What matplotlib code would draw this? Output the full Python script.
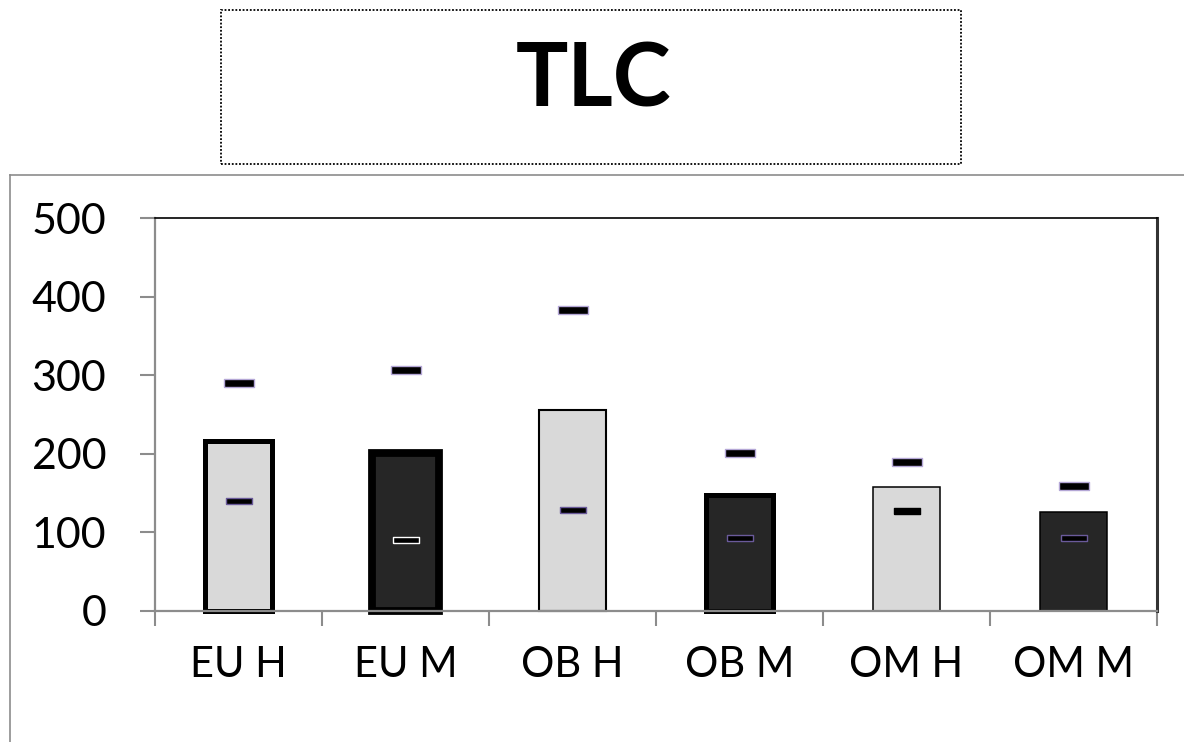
import matplotlib.pyplot as plt
import numpy as np
from matplotlib.patches import Rectangle
from matplotlib.lines import Line2D

# TLC per group: mean as bar, range as dashes
groups = ["EU H", "EU M", "OB H", "OB M", "OM H", "OM M"]
tlc_mean = [216, 201, 256, 148, 158, 126]
tlc_max = [290, 307, 383, 201, 190, 159]
tlc_min = [140, 90, 128, 93, 127, 93]
y_ticks = [0, 100, 200, 300, 400, 500]

LIGHT = "#d9d9d9"
DARK = "#262626"
bar_fill = [LIGHT, DARK, LIGHT, DARK, LIGHT, DARK]
bar_edge_w = [3.6, 5.6, 1.5, 3.6, 1.1, 1.1]
min_face = ["black", "black", "black", "black", "black", "black"]
min_edge = ["#6a5a9a", "white", "#6a5a9a", "#6a5a9a", "black", "#6a5a9a"]

plt.rcParams['font.family'] = ['Lato', 'DejaVu Sans']

W, H = 1184, 742
fig = plt.figure(figsize=(W / 100, H / 100), dpi=100)

def fx(px):
    return px / W

def fy(py):
    return 1 - py / H

# outer chart-area frame (only top and left edges visible)
fig.add_artist(Line2D([fx(10), fx(1190)], [fy(175), fy(175)], color="#8c8c8c", lw=1.2))
fig.add_artist(Line2D([fx(10), fx(10)], [fy(175), fy(750)], color="#8c8c8c", lw=1.2))

# dotted title box
fig.add_artist(Rectangle((fx(221), fy(164)), fx(961) - fx(221), fy(10) - fy(164),
                         fill=False, ec="black", lw=1.3, ls=(0, (1, 1)),
                         transform=fig.transFigure))
fig.text(fx(594), fy(81), "TLC", ha="center", va="center",
         fontsize=63, fontweight="bold")

ax = fig.add_axes([fx(155), fy(611), fx(1157) - fx(155), fy(218) - fy(611)])
x = np.arange(len(groups))

for i in x:
    ax.bar(i, tlc_mean[i], width=0.4, color=bar_fill[i], edgecolor="black",
           linewidth=bar_edge_w[i], clip_on=False, zorder=2)

# dash-shaped marker
def dash(h):
    return [(-1, -h), (1, -h), (1, h), (-1, h), (-1, -h)]

ax.plot(x, tlc_max, ls="none", marker=dash(0.24), markersize=22,
        mfc="black", mec="#b4a7d6", mew=1.0, zorder=3, clip_on=False)
for i in x:
    ax.plot(i, tlc_min[i], ls="none", marker=dash(0.26), markersize=18.5,
            mfc=min_face[i], mec=min_edge[i], mew=1.0, zorder=3)

ax.set_xlim(-0.5, len(groups) - 0.5)
ax.set_ylim(0, 500)
ax.set_yticks(y_ticks)
ax.set_yticklabels([str(v) for v in y_ticks])
ax.tick_params(axis="y", direction="out", length=11, width=1.5, color="#8c8c8c",
               pad=24, labelsize=31)

ax.set_xticks(x)
ax.set_xticklabels(groups)
ax.set_xticks(np.arange(len(groups) + 1) - 0.5, minor=True)
ax.tick_params(axis="x", which="major", length=0, pad=25, labelsize=30)
ax.tick_params(axis="x", which="minor", direction="out", length=11, width=1.5,
               color="#8c8c8c")

for side in ("left", "bottom"):
    ax.spines[side].set_color("#8c8c8c")
    ax.spines[side].set_linewidth(1.6)
ax.spines["top"].set_color("black")
ax.spines["top"].set_linewidth(1.2)
ax.spines["right"].set_color("#333333")
ax.spines["right"].set_linewidth(2.2)

fig.savefig("out.png", dpi=100)
